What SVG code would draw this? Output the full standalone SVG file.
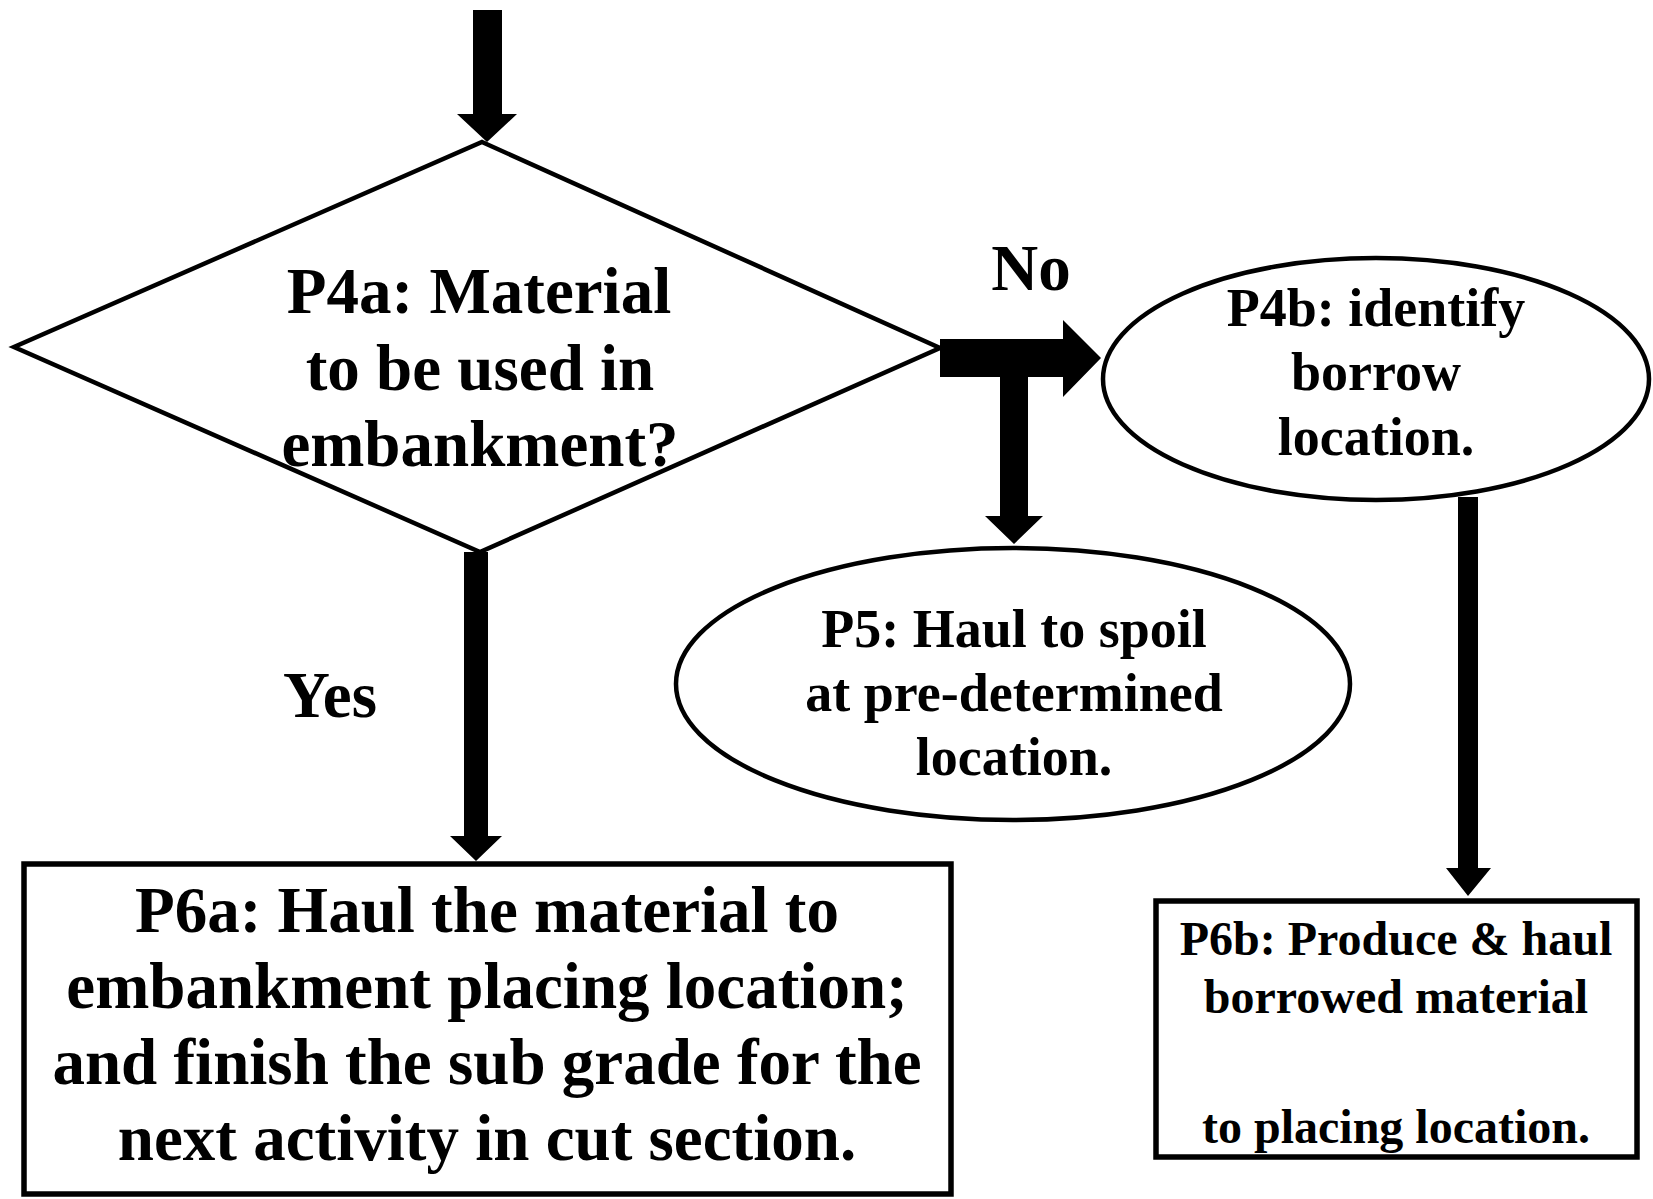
<svg xmlns="http://www.w3.org/2000/svg" width="1653" height="1199" viewBox="0 0 1653 1199">
<style>
.shape{fill:#fff;stroke:#000;stroke-width:4.5}
.box{fill:#fff;stroke:#000;stroke-width:5.5}
.t{font-family:"Liberation Serif","Times New Roman",serif;font-weight:bold;fill:#000;text-anchor:middle}
.big{font-size:65px}
.mid{font-size:54px}
.sm{font-size:48px}
.arr{fill:#000;stroke:none}
</style>
<rect width="1653" height="1199" fill="#fff"/>
<g id="connectors">
  <polygon class="arr" points="473,10 502,10 502,114 517,114 487,142 457,114 473,114"/>
  <polygon class="arr" points="464,552 488,552 488,836 502,836 476,861 450,836 464,836"/>
  <polygon class="arr" points="940,339 1063,339 1063,320 1101,358 1063,397 1063,377 1028,377 1028,516 1043,516 1014,544 985,516 1000,516 1000,377 940,377"/>
  <polygon class="arr" points="1458,497 1478,497 1478,868 1491,868 1468,896 1446,868 1458,868"/>
</g>
<g id="P4a">
  <polygon class="shape" points="482,142 940,348 480,552 14,347"/>
  <text class="t big" x="479" y="313">P4a: Material</text>
  <text class="t big" x="480" y="390">to be used in</text>
  <text class="t big" x="480" y="466">embankment?</text>
</g>
<g id="label-no"><text class="t big" x="1031" y="290">No</text></g>
<g id="label-yes"><text class="t big" x="330" y="717">Yes</text></g>
<g id="P4b">
  <ellipse class="shape" cx="1376" cy="379" rx="273" ry="121"/>
  <text class="t mid" x="1376" y="326">P4b: identify</text>
  <text class="t mid" x="1376" y="390">borrow</text>
  <text class="t mid" x="1376" y="455">location.</text>
</g>
<g id="P5">
  <ellipse class="shape" cx="1013" cy="684" rx="337" ry="136"/>
  <text class="t mid" x="1014" y="647">P5: Haul to spoil</text>
  <text class="t mid" x="1014" y="711">at pre-determined</text>
  <text class="t mid" x="1014" y="775">location.</text>
</g>
<g id="P6a">
  <rect class="box" x="24" y="864" width="927" height="330"/>
  <text class="t big" x="487" y="932">P6a: Haul the material to</text>
  <text class="t big" x="487" y="1008">embankment placing location;</text>
  <text class="t big" x="487" y="1084">and finish the sub grade for the</text>
  <text class="t big" x="487" y="1160">next activity in cut section.</text>
</g>
<g id="P6b">
  <rect class="box" x="1156" y="901" width="481" height="256"/>
  <text class="t sm" x="1396" y="955">P6b: Produce &amp; haul</text>
  <text class="t sm" x="1396" y="1013">borrowed material</text>
  <text class="t sm" x="1396" y="1143">to placing location.</text>
</g>
</svg>
